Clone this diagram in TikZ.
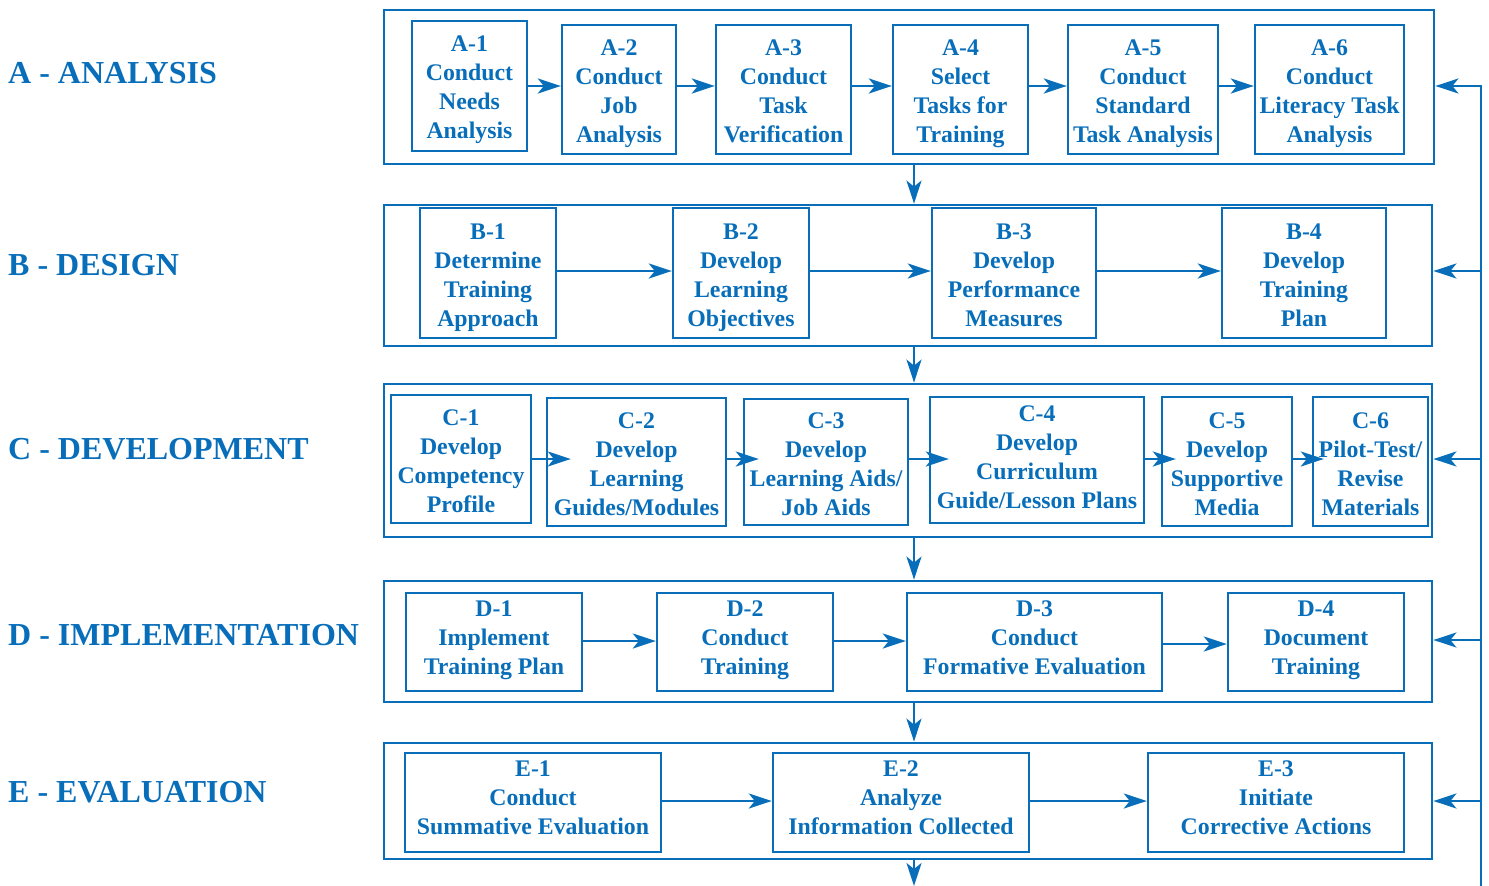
\documentclass[tikz,border=0pt]{standalone}
\usepackage{fontspec}
\setmainfont{Liberation Serif}
\usetikzlibrary{arrows.meta}
\definecolor{isdblue}{RGB}{8,110,186}
\tikzset{
  frame/.style={draw=isdblue, line width=2.8pt, inner sep=0pt},
  stepbox/.style={draw=isdblue, line width=2.4pt, inner sep=0pt, align=center,
    text=isdblue, font=\bfseries\fontsize{23.8}{29}\selectfont},
  flow/.style={draw=isdblue, line width=2.4pt,
    -{Stealth[length=23pt,width=15pt,inset=6pt]}},
  feed/.style={draw=isdblue, line width=2.4pt},
  stage/.style={anchor=base west, inner sep=0pt, text=isdblue,
    font=\bfseries\fontsize{32}{38}\selectfont},
}
\begin{document}
\begin{tikzpicture}[x=1pt,y=-1pt]
\useasboundingbox (0,0) rectangle (1489,886);

% phase frames
\node[frame, minimum width=1050, minimum height=154] (fa) at (909,87) {};
\node[frame, minimum width=1048, minimum height=141] (fb) at (908,275.5) {};
\node[frame, minimum width=1048, minimum height=153] (fc) at (908,460.5) {};
\node[frame, minimum width=1048, minimum height=121] (fd) at (908,641.5) {};
\node[frame, minimum width=1048, minimum height=116] (fe) at (908,801) {};

% phase labels
\node[stage] (la) at (8,83) {A - ANALYSIS};
\node[stage] (lb) at (8,275) {B - DESIGN};
\node[stage] (lc) at (8,459) {C - DEVELOPMENT};
\node[stage] (ld) at (8,645) {D - IMPLEMENTATION};
\node[stage] (le) at (8,802) {E - EVALUATION};

% analysis
\begin{scope}[every node/.append style={text height=106pt, text depth=0pt}]
\node[stepbox, minimum width=115, minimum height=130, text height=104pt] (a1) at (469.5,86) {A-1\\Conduct\\Needs\\Analysis};
\node[stepbox, minimum width=114, minimum height=129] (a2) at (619,89.5) {A-2\\Conduct\\Job\\Analysis};
\node[stepbox, minimum width=135, minimum height=129] (a3) at (783.5,89.5) {A-3\\Conduct\\Task\\Verification};
\node[stepbox, minimum width=135, minimum height=129] (a4) at (960.5,89.5) {A-4\\Select\\Tasks for\\Training};
\node[stepbox, minimum width=150, minimum height=129] (a5) at (1143,89.5) {A-5\\Conduct\\Standard\\Task Analysis};
\node[stepbox, minimum width=149, minimum height=129] (a6) at (1329.5,89.5) {A-6\\Conduct\\Literacy Task\\Analysis};
\end{scope}

% design
\begin{scope}[every node/.append style={text height=107pt, text depth=0pt}]
\node[stepbox, minimum width=136, minimum height=130] (b1) at (488,273) {B-1\\Determine\\Training\\Approach};
\node[stepbox, minimum width=136, minimum height=130] (b2) at (741,273) {B-2\\Develop\\Learning\\Objectives};
\node[stepbox, minimum width=164, minimum height=130] (b3) at (1014,273) {B-3\\Develop\\Performance\\Measures};
\node[stepbox, minimum width=164, minimum height=130] (b4) at (1304,273) {B-4\\Develop\\Training\\Plan};
\end{scope}

% development
\begin{scope}[every node/.append style={text height=107pt, text depth=0pt}]
\node[stepbox, minimum width=140, minimum height=128] (c1) at (461,459) {C-1\\Develop\\Competency\\Profile};
\node[stepbox, minimum width=179, minimum height=128] (c2) at (636.5,462) {C-2\\Develop\\Learning\\Guides/Modules};
\node[stepbox, minimum width=164, minimum height=126] (c3) at (826,462) {C-3\\Develop\\Learning Aids/\\Job Aids};
\node[stepbox, minimum width=214, minimum height=126, text height=103pt, text depth=5.5pt] (c4) at (1037,460) {C-4\\Develop\\Curriculum\\Guide/Lesson Plans};
\node[stepbox, minimum width=130, minimum height=129] (c5) at (1227,461.5) {C-5\\Develop\\Supportive\\Media};
\node[stepbox, minimum width=115, minimum height=129] (c6) at (1370.5,461.5) {C-6\\Pilot-Test/\\Revise\\Materials};
\end{scope}

% implementation
\begin{scope}[every node/.append style={text depth=8.5pt}]
\node[stepbox, minimum width=176, minimum height=98] (d1) at (494,642) {D-1\\Implement\\Training Plan};
\node[stepbox, minimum width=176, minimum height=98] (d2) at (745,642) {D-2\\Conduct\\Training};
\node[stepbox, minimum width=255, minimum height=98] (d3) at (1034.5,642) {D-3\\Conduct\\Formative Evaluation};
\node[stepbox, minimum width=176, minimum height=98] (d4) at (1316,642) {D-4\\Document\\Training};
\end{scope}

% evaluation
\begin{scope}[every node/.append style={text depth=10pt}]
\node[stepbox, minimum width=256, minimum height=99] (e1) at (533,802.5) {E-1\\Conduct\\Summative Evaluation};
\node[stepbox, minimum width=256, minimum height=99] (e2) at (901,802.5) {E-2\\Analyze\\Information Collected};
\node[stepbox, minimum width=256, minimum height=99] (e3) at (1276,802.5) {E-3\\Initiate\\Corrective Actions};
\end{scope}

% flow within phases
\foreach \p/\q in {a1/a2,a2/a3,a3/a4,a4/a5,a5/a6}
  \draw[flow] (\p.east |- 0,86) -- (\q.west |- 0,86);
\foreach \p/\q in {b1/b2,b2/b3,b3/b4}
  \draw[flow] (\p.east |- 0,271) -- (\q.west |- 0,271);
% in the development row the heads reach into the next box
\foreach \p/\q/\r in {c1/c2/25,c2/c3/16,c3/c4/20,c4/c5/15,c5/c6/12}
  \draw[flow] (\p.east |- 0,459) -- ([xshift=\r pt]\q.west |- 0,459);
\draw[flow] (d1.east |- 0,641) -- (d2.west |- 0,641);
\draw[flow] (d2.east |- 0,641) -- (d3.west |- 0,641);
\draw[flow] (d3.east |- 0,644) -- (d4.west |- 0,644);
\foreach \p/\q in {e1/e2,e2/e3}
  \draw[flow] (\p.east |- 0,801) -- (\q.west |- 0,801);

% flow between phases
\coordinate (out) at (914,886);
\foreach \p/\q in {fa/fb,fb/fc,fc/fd,fd/fe}
  \draw[flow] (\p.south -| out) -- (\q.north -| out);
\draw[flow] (fe.south -| out) -- (out);

% feedback line
\coordinate (fbtop) at (1481,86);
\coordinate (fbbot) at (1481,886);
\draw[feed] (fbbot) -- (fbtop);
\draw[flow] ([xshift=1.2pt]fbtop) -- (fa.east |- fbtop);
\foreach \f/\y in {fb/271,fc/459,fd/640,fe/801}
  \draw[flow] (fbtop |- 0,\y) -- (\f.east |- 0,\y);
\end{tikzpicture}
\end{document}
